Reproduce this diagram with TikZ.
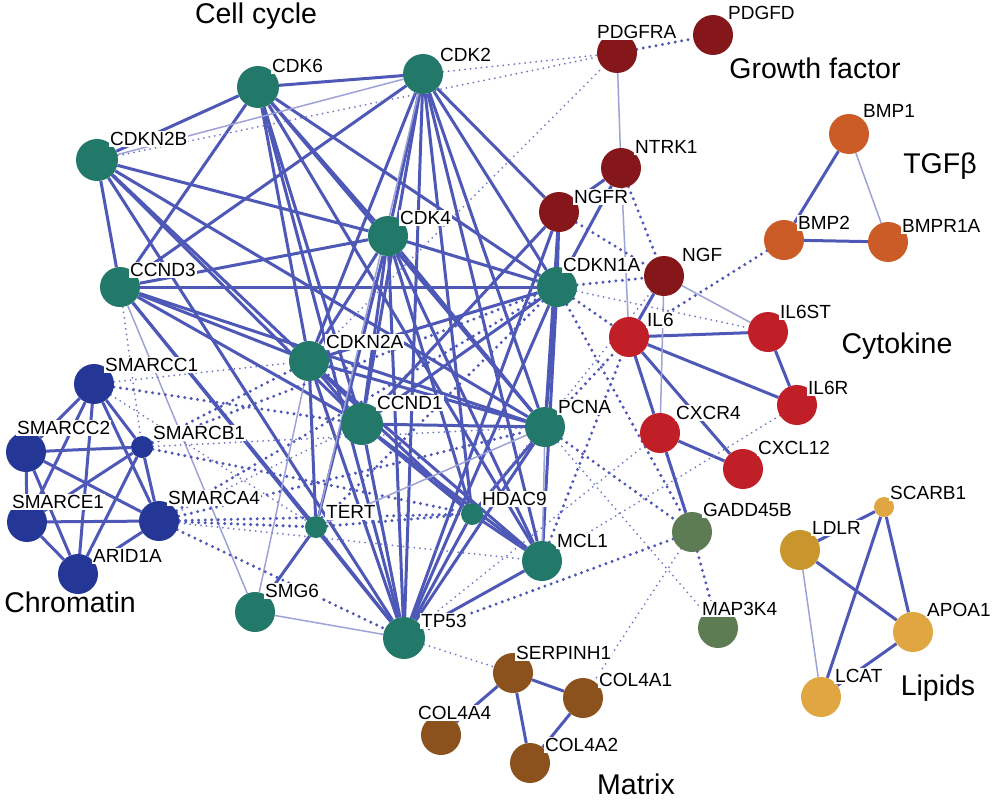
\documentclass[tikz,border=0pt]{standalone}
\usepackage{fontspec}
\setmainfont{Liberation Sans}
\usetikzlibrary{backgrounds}
\definecolor{linkblue}{RGB}{78,88,182}
\definecolor{cyc}{RGB}{34,121,106}
\definecolor{chrom}{RGB}{36,55,150}
\definecolor{grow}{RGB}{133,22,26}
\definecolor{cyto}{RGB}{192,31,40}
\definecolor{tgf}{RGB}{203,92,40}
\definecolor{stress}{RGB}{94,124,84}
\definecolor{matrix}{RGB}{140,82,30}
\definecolor{lipa}{RGB}{201,150,45}
\definecolor{lipb}{RGB}{224,166,66}
\tikzset{
  gene/.style={circle, inner sep=0pt, fill=#1},
  tag/.style={anchor=west, fill=white, inner sep=1pt, font=\fontsize{19}{19}\selectfont},
  group/.style={font=\fontsize{28.5}{30}\selectfont},
  bond/.style={draw=linkblue, line width=3pt},
  weak/.style={draw=linkblue!55, line width=1.5pt},
  dots/.style={draw=linkblue, line width=3.3pt, line cap=round, dash pattern=on 0pt off 6.5pt},
  fdots/.style={draw=linkblue!80, line width=2pt, line cap=round, dash pattern=on 0pt off 5.5pt}
}
\begin{document}
\begin{tikzpicture}[x=1pt,y=-1pt]
  \useasboundingbox (0,0) rectangle (992,800);
  % genes: name/x/y/colour/size/text/label offset
  \foreach \n/\x/\y/\c/\s/\t/\dx/\dy in {
    cdk6/258/87/cyc/42/CDK6/13/-21, cdk2/423/74/cyc/40/CDK2/16/-19,
    cdkn2b/97/160/cyc/42/CDKN2B/12/-21, cdk4/388/236/cyc/40/CDK4/11/-18,
    ccnd3/120/287/cyc/40/CCND3/9/-17, cdkn1a/557/287/cyc/40/CDKN1A/5/-22,
    cdkn2a/309/361/cyc/40/CDKN2A/16/-19, ccnd1/362/424/cyc/42/CCND1/14/-21,
    pcna/545/427/cyc/40/PCNA/12/-20, hdac9/472/514/cyc/22/HDAC9/9/-15,
    tert/316/527/cyc/22/TERT/9/-15, mcl1/542/561/cyc/40/MCL1/14/-20,
    smg6/255/612/cyc/40/SMG6/9/-21, tp53/404/638/cyc/42/TP53/16/-17,
    smarcc1/94/384/chrom/40/SMARCC1/10/-19, smarcc2/26/452/chrom/40/SMARCC2/-10/-24,
    smarcb1/142/447/chrom/22/SMARCB1/10/-14, smarce1/27/522/chrom/40/SMARCE1/-16/-20,
    smarca4/159/521/chrom/40/SMARCA4/8/-23, arid1a/78/574/chrom/40/ARID1A/14/-18,
    pdgfra/617/53/grow/40/PDGFRA/-21/-21, pdgfd/713/35/grow/40/PDGFD/14/-22,
    ntrk1/621/168/grow/40/NTRK1/13/-21, ngfr/559/212/grow/40/NGFR/14/-15,
    ngf/664/276/grow/40/NGF/17/-21,
    bmp1/849/134/tgf/40/BMP1/13/-23, bmp2/784/240/tgf/40/BMP2/13/-17,
    bmpr1a/888/242/tgf/40/BMPR1A/13/-16,
    il6/629/337/cyto/40/IL6/17/-17, il6st/768/332/cyto/40/IL6ST/11/-20,
    il6r/797/405/cyto/40/IL6R/10/-17, cxcr4/660/433/cyto/40/CXCR4/15/-20,
    cxcl12/743/469/cyto/40/CXCL12/14/-21,
    gadd45b/692/532/stress/40/GADD45B/10/-22, map3k4/718/628/stress/40/MAP3K4/-17/-19,
    serpinh1/513/673/matrix/40/SERPINH1/2/-20, col4a1/583/698/matrix/40/COL4A1/15/-18,
    col4a4/441/735/matrix/40/COL4A4/-24/-22, col4a2/530/763/matrix/40/COL4A2/14/-18,
    scarb1/884/507/lipb/20/SCARB1/5/-14, ldlr/800/550/lipa/40/LDLR/11/-22,
    apoa1/913/632/lipb/40/APOA1/13/-22, lcat/821/697/lipb/40/LCAT/13/-21}{
    \node[gene=\c, minimum size=\s pt] (\n) at (\x,\y) {};
    \node[tag] (\n-t) at (\x+\dx,\y+\dy) {\t};
  }
  \node[group] (cyclab) at (256,16) {Cell cycle};
  \node[group] (growlab) at (815,68) {Growth factor};
  \node[group] (tgflab) at (940,166) {TGFβ};
  \node[group] (cytolab) at (897,346) {Cytokine};
  \node[group] (chromlab) at (70,602) {Chromatin};
  \node[group] (liplab) at (938,688) {Lipids};
  \node[group] (matlab) at (636,784) {Matrix};
  \begin{scope}[on background layer]
    \fill[white] (0,0) rectangle (992,800);
    \foreach \a/\b in {cdk6/cdk2, cdk6/cdkn2b, cdk6/ccnd3, cdk6/cdk4, cdk6/cdkn1a,
      cdk6/cdkn2a, cdk6/ccnd1, cdk6/pcna, cdk6/tp53, cdk6/mcl1,
      cdk2/ccnd3, cdk2/cdk4, cdk2/cdkn2a, cdk2/ccnd1, cdk2/tp53, cdk2/pcna,
      cdk2/cdkn1a, cdk2/mcl1, cdk2/hdac9, cdk2/ngfr,
      cdkn2b/cdk4, cdkn2b/ccnd3, cdkn2b/cdkn2a, cdkn2b/ccnd1, cdkn2b/pcna, cdkn2b/tp53,
      ccnd3/cdk4, ccnd3/cdkn1a, ccnd3/cdkn2a, ccnd3/ccnd1, ccnd3/pcna, ccnd3/tp53, ccnd3/tert,
      cdk4/cdkn2a, cdk4/ccnd1, cdk4/cdkn1a, cdk4/pcna, cdk4/tp53, cdk4/mcl1, cdk4/hdac9, cdk4/tert,
      cdkn1a/cdkn2a, cdkn1a/ccnd1, cdkn1a/pcna, cdkn1a/tp53, cdkn1a/mcl1, cdkn1a/ngfr, cdkn1a/ntrk1,
      cdkn2a/ccnd1, cdkn2a/pcna, cdkn2a/tp53, cdkn2a/tert, cdkn2a/hdac9, cdkn2a/mcl1,
      ccnd1/pcna, ccnd1/tp53, ccnd1/hdac9, ccnd1/mcl1,
      pcna/tp53, pcna/hdac9, hdac9/tp53, hdac9/mcl1, tert/tp53, tert/smg6, tp53/mcl1,
      ngfr/ntrk1, ngfr/ccnd1, ngfr/tp53, ngfr/pcna,
      smarcc1/smarcc2, smarcc1/smarcb1, smarcc1/smarca4, smarcc1/smarce1, smarcc1/arid1a,
      smarcc2/smarcb1, smarcc2/smarce1, smarcc2/smarca4, smarcc2/arid1a,
      smarce1/smarcb1, smarce1/smarca4, smarce1/arid1a,
      arid1a/smarcb1, arid1a/smarca4, smarcb1/smarca4,
      ngf/il6, il6/il6st, il6/il6r, il6/cxcr4, il6/cxcl12, il6st/il6r, cxcr4/cxcl12, cxcr4/gadd45b,
      bmp1/bmp2, bmp2/bmpr1a,
      scarb1/ldlr, scarb1/lcat, scarb1/apoa1, ldlr/apoa1, apoa1/lcat,
      serpinh1/col4a1, serpinh1/col4a4, serpinh1/col4a2, col4a1/col4a2}
      \draw[bond] (\a) -- (\b);
    \foreach \a/\b in {cdk2/cdkn2b, pdgfra/ntrk1, ntrk1/il6, ngf/il6st, ngf/cxcr4,
      bmp1/bmpr1a, ldlr/lcat, tp53/smg6, ccnd3/smg6, pcna/tert, smg6/cdkn2a,
      cdk2/tert, pcna/mcl1}
      \draw[weak] (\a) -- (\b);
    \foreach \a/\b in {pdgfra/pdgfd, ntrk1/ngf, ngfr/ngf, cdkn1a/ngf, cdkn1a/il6,
      cdkn1a/gadd45b, pcna/gadd45b, pcna/il6, mcl1/il6, il6/gadd45b, gadd45b/map3k4,
      gadd45b/tp53, bmp2/il6, cdk4/cdkn1a, smarca4/tert, smarca4/hdac9, smarca4/tp53,
      smarca4/cdkn1a, smarcb1/cdkn1a, smarcb1/cdkn2a, smarcc1/ccnd1, smarcb1/hdac9,
      tert/hdac9, cdkn1a/tert, smarca4/pcna}
      \draw[dots] (\a) -- (\b);
    \foreach \a/\b in {cdk2/pdgfra, cdkn2b/pdgfra, cdkn2a/pdgfra, cdkn1a/il6st,
      cxcr4/tp53, il6r/mcl1, tp53/serpinh1, pcna/map3k4, gadd45b/col4a1,
      smarcc1/cdkn2a, smarcb1/pcna, smarca4/ccnd1, smarca4/mcl1, smarcc1/tert,
      ccnd3/smarcb1, ngf/hdac9}
      \draw[fdots] (\a) -- (\b);
  \end{scope}
\end{tikzpicture}
\end{document}
